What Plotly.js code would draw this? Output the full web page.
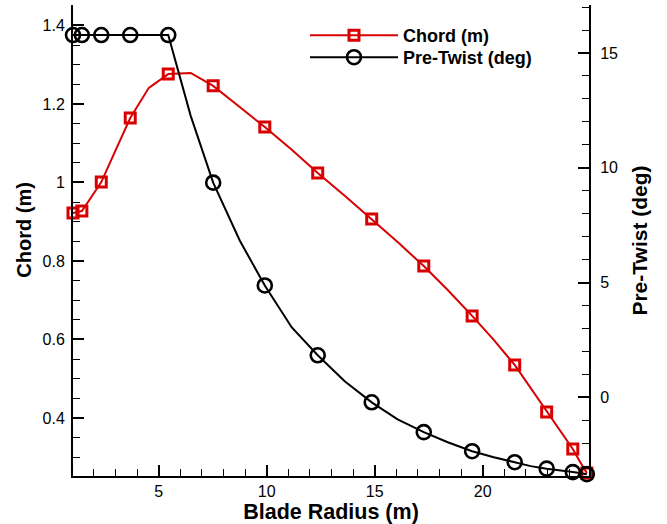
<!DOCTYPE html>
<html>
<head>
<meta charset="utf-8">
<script src="https://cdn.plot.ly/plotly-3.0.1.min.js"></script>
<style>
  html, body { margin: 0; padding: 0; background: #fff; }
  #chart { width: 667px; height: 524px; }
</style>
</head>
<body>
<div id="chart"></div>
<script>
// Blade stations (m)
const radius = [1.03, 1.23, 1.44, 1.88, 2.34, 3.01, 3.68, 4.54, 5.44, 6.48, 7.52, 8.75, 9.91, 11.16, 12.36, 13.61, 14.86, 16.06, 17.27, 18.38, 19.51, 20.51, 21.48, 22.22, 22.96, 23.56, 24.17, 24.49, 24.82];
// Chord (m)
const chord = [0.922, 0.925, 0.927, 0.963, 1.001, 1.083, 1.164, 1.241, 1.276, 1.279, 1.246, 1.192, 1.141, 1.083, 1.024, 0.966, 0.907, 0.848, 0.787, 0.726, 0.660, 0.599, 0.535, 0.476, 0.415, 0.369, 0.321, 0.290, 0.260];
// Pre-twist (deg)
const twist = [15.78, 15.78, 15.78, 15.78, 15.78, 15.78, 15.78, 15.78, 15.78, 12.26, 9.35, 6.83, 4.87, 3.04, 1.83, 0.70, -0.22, -0.96, -1.52, -1.96, -2.35, -2.61, -2.83, -3.00, -3.11, -3.20, -3.26, -3.30, -3.35];

const red = '#d80000';
const FONT = 'Liberation Sans, Arial, sans-serif';
// Symbols are drawn on every other station
const symColors = (c) => radius.map((r, i) => (i % 2 === 0 ? c : 'rgba(0,0,0,0)'));

const traces = [
  {
    x: radius, y: chord, name: 'Chord (m)', yaxis: 'y', legend: 'legend',
    type: 'scatter', mode: 'lines+markers',
    line: { color: red, width: 2 },
    marker: { symbol: 'square-open', size: 10, color: symColors(red), line: { width: 3, color: symColors(red) } },
    cliponaxis: false
  },
  {
    x: radius, y: twist, name: 'Pre-Twist (deg)', yaxis: 'y2', legend: 'legend2',
    type: 'scatter', mode: 'lines+markers',
    line: { color: '#000', width: 2 },
    marker: { symbol: 'circle-open', size: 14, color: symColors('#000'), line: { width: 2.6, color: symColors('#000') } },
    cliponaxis: false
  }
];

const legendBase = {
  xanchor: 'left', yanchor: 'top',
  bgcolor: 'rgba(0,0,0,0)', borderwidth: 0,
  font: { family: FONT, size: 18, color: '#000', weight: 'bold' },
  itemwidth: 88
};

const layout = {
  width: 667, height: 524,
  margin: { l: 73, r: 78, t: 5, b: 48 },
  paper_bgcolor: '#fff', plot_bgcolor: '#fff',
  font: { family: FONT, color: '#000', size: 16 },
  showlegend: true,
  legend: Object.assign({}, legendBase, { x: 0.4496, y: 0.9745 }),
  legend2: Object.assign({}, legendBase, { x: 0.4496, y: 0.9278 }),
  xaxis: {
    range: [1.03, 24.92],
    title: { text: 'Blade Radius (m)', font: { family: FONT, size: 21.5, weight: 'bold' }, standoff: 0 },
    tickvals: [5, 10, 15, 20],
    ticks: 'inside', ticklen: 11, tickwidth: 2, tickcolor: '#000',
    showline: true, linecolor: '#000', linewidth: 2,
    showgrid: false, zeroline: false,
    tickfont: { family: FONT, size: 16 },
    minor: { dtick: 1, tick0: 0, ticks: 'inside', ticklen: 7, tickwidth: 1, tickcolor: '#000', showgrid: false }
  },
  yaxis: {
    range: [0.2522, 1.452],
    tickvals: [0.4, 0.6, 0.8, 1.0, 1.2, 1.4],
    ticktext: ['0.4', '0.6', '0.8', '1', '1.2', '1.4'],
    ticks: 'inside', ticklen: 11, tickwidth: 2, tickcolor: '#000',
    showline: true, linecolor: '#000', linewidth: 2,
    showgrid: false, zeroline: false,
    tickfont: { family: FONT, size: 16 },
    ticklabelstandoff: 3,
    minor: { dtick: 0.05, tick0: 0, ticks: 'inside', ticklen: 7, tickwidth: 1, tickcolor: '#000', showgrid: false }
  },
  yaxis2: {
    overlaying: 'y', side: 'right',
    range: [-3.43, 17.09],
    title: { text: 'Pre-Twist (deg)', font: { family: FONT, size: 21, weight: 'bold' }, standoff: 15 },
    tickvals: [0, 5, 10, 15],
    ticks: 'inside', ticklen: 11, tickwidth: 2, tickcolor: '#000',
    showline: true, linecolor: '#000', linewidth: 2,
    showgrid: false, zeroline: false,
    tickfont: { family: FONT, size: 16 },
    ticklabelstandoff: 6,
    minor: { dtick: 1, tick0: 0, ticks: 'inside', ticklen: 7, tickwidth: 1, tickcolor: '#000', showgrid: false }
  },
  annotations: [
    {
      text: 'Chord (m)', textangle: -90,
      xref: 'paper', yref: 'paper', x: -0.0945, y: 0.5234,
      xanchor: 'center', yanchor: 'middle', showarrow: false,
      font: { family: FONT, size: 20, weight: 'bold', color: '#000' }
    }
  ]
};

Plotly.newPlot('chart', traces, layout, { displayModeBar: false, staticPlot: true });
</script>
</body>
</html>
